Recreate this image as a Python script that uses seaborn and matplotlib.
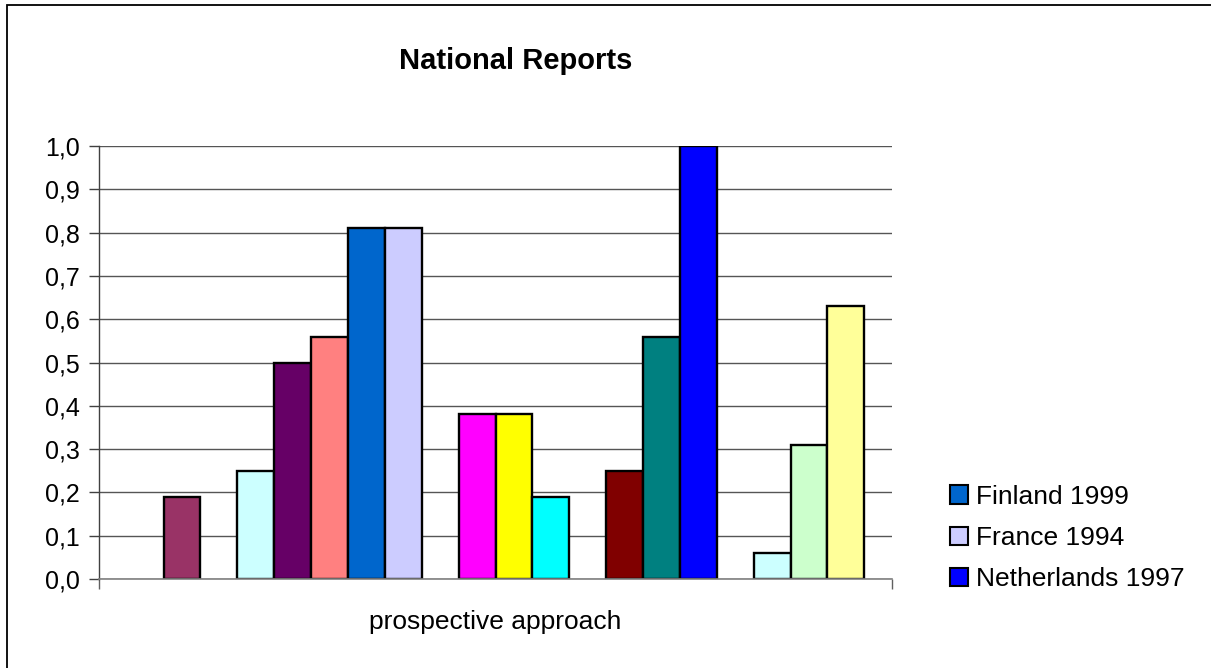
import pandas as pd
import seaborn as sns
from matplotlib import pyplot as plt
from matplotlib.patches import Patch, Rectangle
from matplotlib.ticker import FuncFormatter, FixedLocator

category = ["prospective approach"]

series_names = ["Series 1", "Series 2", "Series 3", "Series 4", "Series 5",
                "Series 6", "Finland 1999", "France 1994", "Series 9", "Series 10",
                "Series 11", "Series 12", "Series 13", "Series 14", "Series 15",
                "Netherlands 1997", "Series 17", "Series 18", "Series 19", "Series 20"]
values = [0.0, 0.19, 0.0, 0.25, 0.50, 0.56, 0.81, 0.81, 0.0, 0.38,
          0.38, 0.19, 0.0, 0.25, 0.56, 1.00, 0.0, 0.06, 0.31, 0.63]
colors = ["#9999FF", "#993366", "#FFFFCC", "#CCFFFF", "#660066",
          "#FF8080", "#0066CC", "#CCCCFF", "#000080", "#FF00FF",
          "#FFFF00", "#00FFFF", "#800080", "#800000", "#008080",
          "#0000FF", "#00CCFF", "#CCFFFF", "#CCFFCC", "#FFFF99"]
legend_names = ["Finland 1999", "France 1994", "Netherlands 1997"]

df = pd.DataFrame({"category": category * len(series_names),
                   "series": series_names,
                   "value": values})

sns.set_style("white")
plt.rcParams['font.family'] = ['Liberation Sans', 'DejaVu Sans']
plt.rcParams['text.color'] = 'black'
plt.rcParams['xtick.color'] = 'black'
plt.rcParams['ytick.color'] = 'black'

fig = plt.figure(figsize=(12.11, 6.68), dpi=100)
ax = fig.add_axes([99 / 1211, 89 / 668, 793 / 1211, 433 / 668])

sns.barplot(data=df, x="category", y="value", hue="series",
            hue_order=series_names,
            palette=dict(zip(series_names, colors)), saturation=1,
            width=20 / 21.5, edgecolor="black", linewidth=1.7,
            legend=False, ax=ax)

# empty series: no outline on the baseline
for p in ax.patches:
    if p.get_height() == 0:
        p.set_linewidth(0)

ax.set_xlim(-0.5, 0.5)
ax.set_ylim(0, 1.0)
ax.set_yticks([i / 10 for i in range(11)])
ax.yaxis.set_major_formatter(FuncFormatter(lambda v, _: f"{v:.1f}".replace(".", ",")))
ax.yaxis.grid(True, color="#555555", linewidth=1.0)
ax.set_axisbelow(True)

ax.set_xlabel("")
ax.set_ylabel("")
ax.tick_params(axis="y", labelsize=18, length=7, width=1, color="#404040",
               labelcolor="black", direction="out", pad=7, left=True)
ax.tick_params(axis="x", labelsize=19, length=0, pad=22, labelcolor="black")
ax.xaxis.set_minor_locator(FixedLocator([-0.5, 0.5]))
ax.tick_params(axis="x", which="minor", length=7, width=1, color="#606060",
               direction="out", bottom=True)

for side in ["top", "right"]:
    ax.spines[side].set_visible(False)
ax.spines["left"].set_color("#404040")
ax.spines["bottom"].set_color("#808080")
ax.spines["left"].set_linewidth(1.0)
ax.spines["bottom"].set_linewidth(1.2)

fig.text(516 / 1211, 1 - 61 / 668, "National Reports", ha="center", va="center",
         fontsize=21, fontweight="bold", color="black")

handles = [Patch(facecolor=colors[series_names.index(n)], edgecolor="black", linewidth=1.5)
           for n in legend_names]
fig.legend(handles, legend_names, loc="center left",
           bbox_to_anchor=(950 / 1211, 1 - 538 / 668), frameon=False,
           fontsize=19, handlelength=0.7, handleheight=0.7,
           handletextpad=0.3, labelspacing=0.66, borderpad=0, borderaxespad=0)

fig.patches.append(Rectangle((7 / 1211, -0.05), 1.1, 1.05 - 5 / 668,
                             transform=fig.transFigure, fill=False,
                             edgecolor="black", linewidth=1.3))

plt.savefig("out.png", dpi=100)
